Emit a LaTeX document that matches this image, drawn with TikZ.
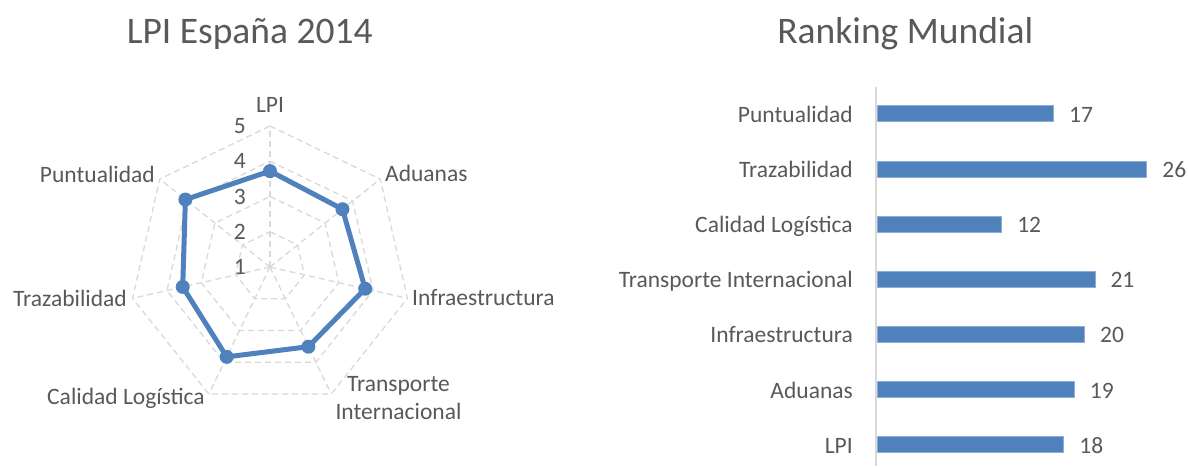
\documentclass[tikz,border=0pt]{standalone}
\usepackage{fontspec}
\setmainfont{Carlito}
\usepackage{tikz}
\definecolor{lpiblue}{HTML}{4F81BD}
\definecolor{txtgray}{HTML}{595959}
\definecolor{gridgray}{HTML}{D9D9D9}

\begin{document}
\begin{tikzpicture}[x=1pt, y=-1pt,
		every node/.style={inner sep=0pt, text=txtgray},
		lbl/.style={font=\fontsize{23.5}{28}\selectfont},
		ttl/.style={font=\fontsize{37.5}{44}\selectfont},
		grid/.style={draw=gridgray, line width=1.3pt, dash pattern=on 6pt off 4pt},
		bar/.style={fill=lpiblue, draw=lpiblue!65!white, line width=0.8pt, minimum height=16pt, anchor=west}]
			\fill[white] (0,0) rectangle (1188,466);
			\useasboundingbox (0,0) rectangle (1188,466);
			% Titles
			\node[ttl, anchor=base] (title1) at (249.7,43.3) {LPI España 2014};
			\node[ttl, anchor=base] (title2) at (905.3,43.3) {Ranking Mundial};
			% Radar
			\begin{scope}[shift={(270,267)}, y=1pt]
				\coordinate (c) at (0,0);
				\foreach \j in {0,...,6} {
					\coordinate (ax\j) at ({90-\j*360/7}:141);
					\draw[grid] (c) -- (ax\j);
				}
				\foreach \k in {2,3,4,5} {
					\draw[grid] (90:{(\k-1)*35.25}) \foreach \j in {1,...,6} { -- ({90-\j*360/7}:{(\k-1)*35.25}) } -- cycle;
				}
				\foreach \k in {1,...,5} {
					\node[lbl, anchor=east] (num\k) at (-24,{(\k-1)*35.25}) {\k};
				}
				\foreach \v [count=\i] in {3.72,3.63,3.77,3.51,3.83,3.54,4.07} {
					\coordinate (p\i) at ({90-(\i-1)*360/7}:{(\v-1)*35.25});
				}
				\draw[lpiblue, line width=5pt, line join=round] (p1) \foreach \i in {2,...,7} { -- (p\i) } -- cycle;
				\foreach \i in {1,...,7} {
					\fill[lpiblue] (p\i) circle (7);
				}
			\end{scope}
			\node[lbl, anchor=base] (lLPI) at (270,112) {LPI};
			\node[lbl, anchor=base west] (lAdu) at (385,181.7) {Aduanas};
			\node[lbl, anchor=base west] (lInf) at (412,305.7) {Infraestructura};
			\node[lbl, anchor=base, align=center] (lTra) at (398.5,419) {Transporte\\Internacional};
			\node[lbl, anchor=base east] (lCal) at (205,404) {Calidad Logística};
			\node[lbl, anchor=base east] (lTrz) at (127,306) {Trazabilidad};
			\node[lbl, anchor=base east] (lPun) at (155,182.3) {Puntualidad};
			% Bars
			\coordinate (axtop) at (876,87);
			\coordinate (axbot) at (876,466);
			\draw[gridgray, line width=2pt] (axtop) -- (axbot);
			\foreach \name/\val [count=\i] in {Puntualidad/17, Trazabilidad/26, Calidad Logística/12, Transporte Internacional/21, Infraestructura/20, Aduanas/19, LPI/18} {
				\node[bar, minimum width={10.36*\val}] (bar\i) at (877,{113.8+(\i-1)*55.17}) {};
				\node[lbl, anchor=base east] (cat\i) at (853,{122.3+(\i-1)*55.17}) {\name};
				\node[lbl, anchor=base west, xshift=15pt, yshift=-8.5pt] (val\i) at (bar\i.east) {\val};
			}
		\end{tikzpicture}
\end{document}
